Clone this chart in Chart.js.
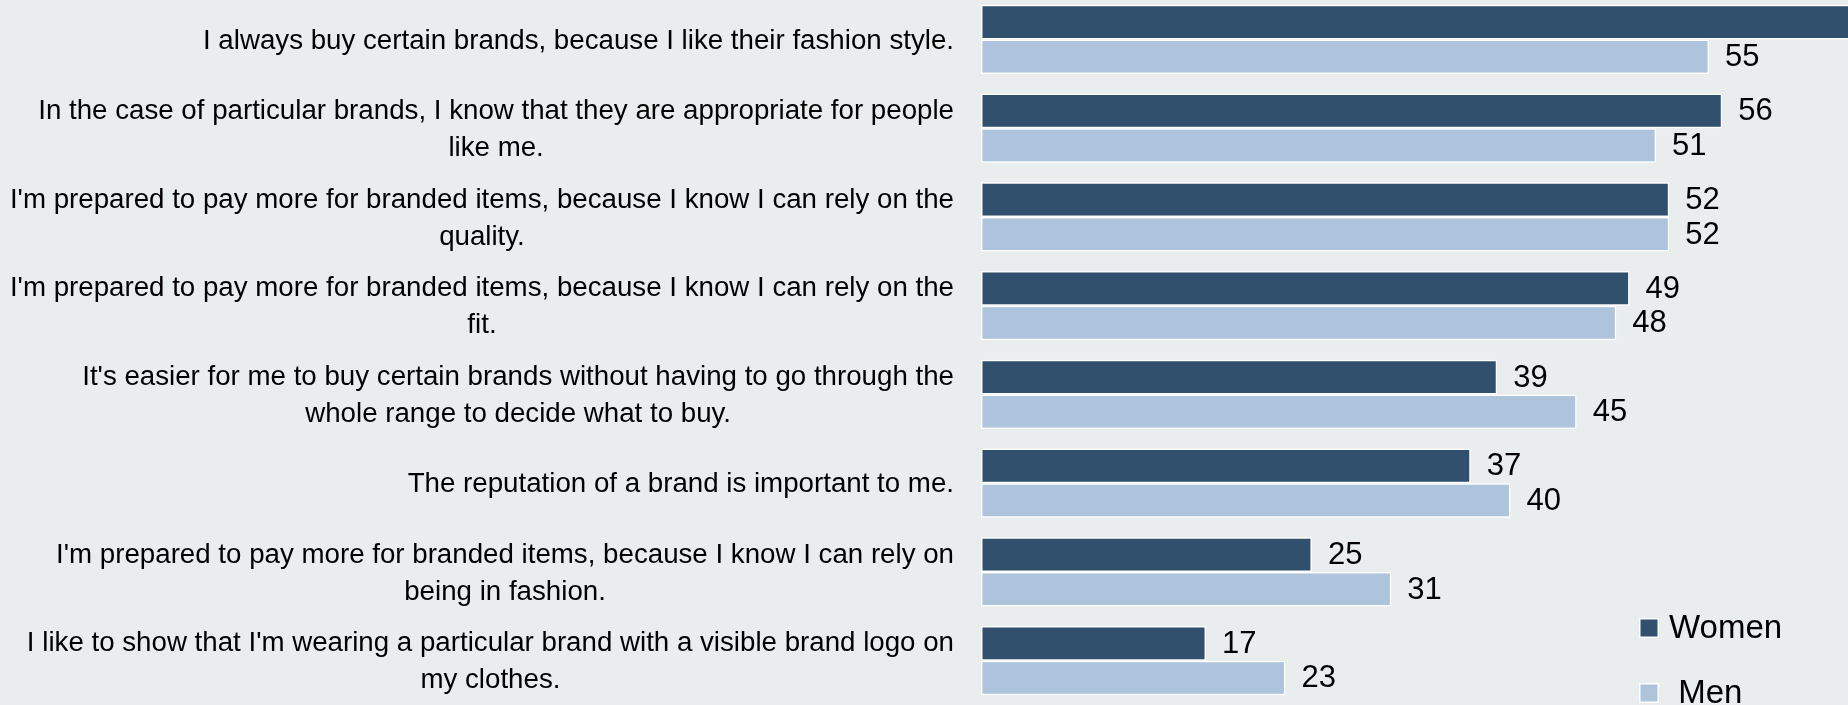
<!DOCTYPE html>
<html>
<head>
<meta charset="utf-8">
<title>Brand attitudes by gender</title>
<script src="https://cdn.jsdelivr.net/npm/chart.js@4.4.1/dist/chart.umd.min.js"></script>
<style>
  html, body { margin: 0; padding: 0; background: #E9EDEE; overflow: hidden; }
  #wrap { position: absolute; left: 0; top: -5px; width: 1848px; height: 710px; }
</style>
</head>
<body>
<div id="wrap"><canvas id="chart"></canvas></div>
<script>
// statements, already split where the label wraps
const statements = [
  ['I always buy certain brands, because I like their fashion style.'],
  ['In the case of particular brands, I know that they are appropriate for people', 'like me.'],
  ["I'm prepared to pay more for branded items, because I know I can rely on the", 'quality.'],
  ["I'm prepared to pay more for branded items, because I know I can rely on the", 'fit.'],
  ["It's easier for me to buy certain brands without having to go through the", 'whole range to decide what to buy.'],
  ['The reputation of a brand is important to me.'],
  ["I'm prepared to pay more for branded items, because I know I can rely on", 'being in fashion.'],
  ["I like to show that I'm wearing a particular brand with a visible brand logo on", 'my clothes.']
];
const women = [67, 56, 52, 49, 39, 37, 25, 17];
const men = [55, 51, 52, 48, 45, 40, 31, 23];
const seriesNames = ['Women', ' Men'];
const seriesColors = ['#30506E', '#ADC4DC'];

const FONT_FAMILY = "Tahoma, 'Liberation Sans', Arial, sans-serif";
const LABEL_SIZE = 27.7;
const LABEL_LINE = 37;
const LABEL_GAP = 27;
const VALUE_SIZE = 31;
const LEGEND_SIZE = 33;

Chart.defaults.font.family = FONT_FAMILY;
Chart.defaults.color = '#000';

// category labels: block right-aligned to the axis, lines centred inside the block
const wrappedLabels = {
  id: 'wrappedLabels',
  afterDraw(chart) {
    const { ctx, chartArea } = chart;
    const yScale = chart.scales.y;
    ctx.save();
    ctx.font = LABEL_SIZE + 'px ' + FONT_FAMILY;
    ctx.fillStyle = '#000';
    ctx.textAlign = 'center';
    ctx.textBaseline = 'middle';
    chart.data.labels.forEach((lines, i) => {
      const cy = yScale.getPixelForTick(i) + 1.5;
      const w = Math.max(...lines.map(l => ctx.measureText(l).width));
      const cx = chartArea.left - LABEL_GAP - w / 2;
      lines.forEach((line, k) => {
        ctx.fillText(line, cx, cy + (k - (lines.length - 1) / 2) * LABEL_LINE);
      });
    });
    ctx.restore();
  }
};

// numbers printed just past the end of each bar
const barValues = {
  id: 'barValues',
  afterDatasetsDraw(chart) {
    const { ctx } = chart;
    ctx.save();
    ctx.font = VALUE_SIZE + 'px ' + FONT_FAMILY;
    ctx.fillStyle = '#000';
    ctx.textAlign = 'left';
    ctx.textBaseline = 'middle';
    chart.data.datasets.forEach((ds, di) => {
      chart.getDatasetMeta(di).data.forEach((bar, i) => {
        const x = bar.x + 16;
        if (x < chart.width) ctx.fillText(String(ds.data[i]), x, bar.y + 1);
      });
    });
    ctx.restore();
  }
};

// legend sitting inside the plot, bottom right
const cornerLegend = {
  id: 'cornerLegend',
  afterDraw(chart) {
    const { ctx, chartArea } = chart;
    const left = chartArea.right - 209;
    const top = chartArea.bottom - 77;
    ctx.save();
    ctx.font = LEGEND_SIZE + 'px ' + FONT_FAMILY;
    ctx.textAlign = 'left';
    ctx.textBaseline = 'middle';
    chart.data.datasets.forEach((ds, i) => {
      const cy = top + i * 65;
      ctx.fillStyle = '#fff';
      ctx.fillRect(left, cy - 10, 20, 20);
      ctx.fillStyle = ds.backgroundColor;
      ctx.fillRect(left + 1.5, cy - 8.5, 17, 17);
      ctx.fillStyle = '#000';
      ctx.fillText(ds.label, left + 30, cy + 1);
    });
    ctx.restore();
  }
};

new Chart(document.getElementById('chart'), {
  type: 'bar',
  data: {
    labels: statements,
    datasets: [
      { label: seriesNames[0], data: women, backgroundColor: seriesColors[0] },
      { label: seriesNames[1], data: men, backgroundColor: seriesColors[1] }
    ]
  },
  options: {
    indexAxis: 'y',
    responsive: true,
    maintainAspectRatio: false,
    animation: false,
    layout: { padding: 0 },
    datasets: {
      bar: {
        categoryPercentage: 0.78,
        barPercentage: 1,
        borderColor: '#fff',
        borderWidth: 1.5,
        borderSkipped: false
      }
    },
    scales: {
      x: { min: 0, max: 65.5, display: false },
      y: {
        grid: { display: false },
        border: { display: false },
        ticks: { display: false },
        afterFit(scale) { scale.width = 981; }
      }
    },
    plugins: {
      legend: { display: false },
      tooltip: { enabled: false }
    }
  },
  plugins: [wrappedLabels, barValues, cornerLegend]
});
</script>
</body>
</html>
